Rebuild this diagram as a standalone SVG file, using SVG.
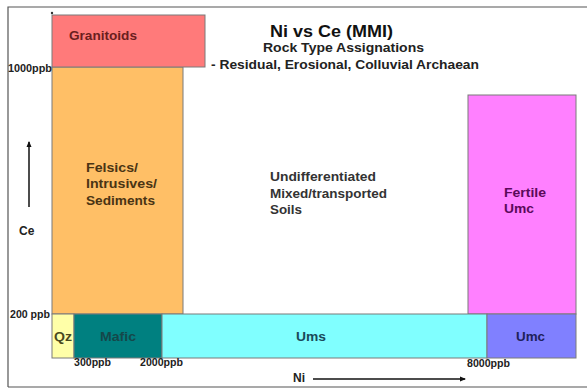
<svg xmlns="http://www.w3.org/2000/svg" width="587" height="388" viewBox="0 0 587 388">
<defs>
<style>
text{font-family:"Liberation Sans",Arial,sans-serif;font-weight:bold}
.box{stroke:#7a7a7a;stroke-width:1}
.lab{font-size:12.5px}
.ax{font-size:10px;fill:#222}
</style>
<marker id="ah" markerWidth="6" markerHeight="6" refX="5" refY="3" orient="auto" markerUnits="userSpaceOnUse">
<path d="M0,0.5 L6,3 L0,5.5 Z" fill="#111"/>
</marker>
</defs>
<rect x="0" y="0" width="587" height="388" fill="#fff"/>
<path d="M8,387 V7 H587" fill="none" stroke="#555" stroke-width="1.2"/>
<line x1="8" y1="387" x2="587" y2="387" stroke="#555" stroke-width="1.2"/>
<g id="felsics">
<rect class="box" x="52" y="67" width="131" height="247" fill="#ffbf66"/>
<text class="lab" x="86" y="172" fill="#4a3414" textLength="52" lengthAdjust="spacingAndGlyphs">Felsics/</text>
<text class="lab" x="86" y="188" fill="#4a3414" textLength="71" lengthAdjust="spacingAndGlyphs">Intrusives/</text>
<text class="lab" x="86" y="205" fill="#4a3414" textLength="69" lengthAdjust="spacingAndGlyphs">Sediments</text>
</g>
<g id="granitoids">
<rect class="box" x="52" y="15" width="153" height="52" fill="#ff7a7a"/>
<text x="69" y="40" font-size="13" fill="#6a1e1e" textLength="68" lengthAdjust="spacingAndGlyphs">Granitoids</text>
</g>
<g id="fertile-umc">
<rect class="box" x="468" y="95" width="108" height="219" fill="#ff80ff"/>
<text class="lab" x="504" y="197" fill="#5a0a5a" textLength="42" lengthAdjust="spacingAndGlyphs">Fertile</text>
<text class="lab" x="504" y="213" fill="#5a0a5a" textLength="30" lengthAdjust="spacingAndGlyphs">Umc</text>
</g>
<g id="qz">
<rect class="box" x="52" y="314" width="22" height="44" fill="#ffffa8"/>
<text class="lab" x="54" y="341" fill="#4a4a20" textLength="18" lengthAdjust="spacingAndGlyphs">Qz</text>
</g>
<g id="mafic">
<rect class="box" x="74" y="314" width="88" height="44" fill="#008080"/>
<text class="lab" x="100" y="341" fill="#15484a" textLength="36" lengthAdjust="spacingAndGlyphs">Mafic</text>
</g>
<g id="ums">
<rect class="box" x="162" y="314" width="325" height="44" fill="#80ffff"/>
<text class="lab" x="296" y="341" fill="#1a4a5a" textLength="30" lengthAdjust="spacingAndGlyphs">Ums</text>
</g>
<g id="umc">
<rect class="box" x="487" y="314" width="89" height="44" fill="#8080ff"/>
<text class="lab" x="516" y="341" fill="#20205a" textLength="29" lengthAdjust="spacingAndGlyphs">Umc</text>
</g>
<g id="title">
<text x="270" y="37" font-size="17" fill="#111" textLength="123" lengthAdjust="spacingAndGlyphs">Ni vs Ce (MMI)</text>
<text x="263" y="51.5" font-size="12.5" fill="#222" textLength="161" lengthAdjust="spacingAndGlyphs">Rock Type Assignations</text>
<text x="211" y="69" font-size="12.5" fill="#222" textLength="268" lengthAdjust="spacingAndGlyphs">- Residual, Erosional, Colluvial Archaean</text>
</g>
<g id="soils">
<text class="lab" x="270" y="181" fill="#333" textLength="106" lengthAdjust="spacingAndGlyphs">Undifferentiated</text>
<text class="lab" x="270" y="198" fill="#333" textLength="117" lengthAdjust="spacingAndGlyphs">Mixed/transported</text>
<text class="lab" x="270" y="214" fill="#333" textLength="32" lengthAdjust="spacingAndGlyphs">Soils</text>
</g>
<g id="axes">
<circle cx="52" cy="13" r="1.2" fill="#333"/>
<text class="ax" x="8" y="72" textLength="44" lengthAdjust="spacingAndGlyphs">1000ppb</text>
<text class="ax" x="10" y="318" textLength="40" lengthAdjust="spacingAndGlyphs">200 ppb</text>
<text class="ax" x="74" y="366" textLength="37" lengthAdjust="spacingAndGlyphs">300ppb</text>
<text class="ax" x="140" y="366" textLength="43" lengthAdjust="spacingAndGlyphs">2000ppb</text>
<text class="ax" x="467" y="367" textLength="43" lengthAdjust="spacingAndGlyphs">8000ppb</text>
<text x="19" y="235" font-size="12" fill="#222">Ce</text>
<text x="293" y="382" font-size="12" fill="#222">Ni</text>
</g>
<g id="connectors">
<line x1="29" y1="207" x2="29" y2="142" stroke="#111" stroke-width="1.5" marker-end="url(#ah)"/>
<line x1="313" y1="379" x2="465" y2="379" stroke="#111" stroke-width="1.5" marker-end="url(#ah)"/>
</g>
</svg>
